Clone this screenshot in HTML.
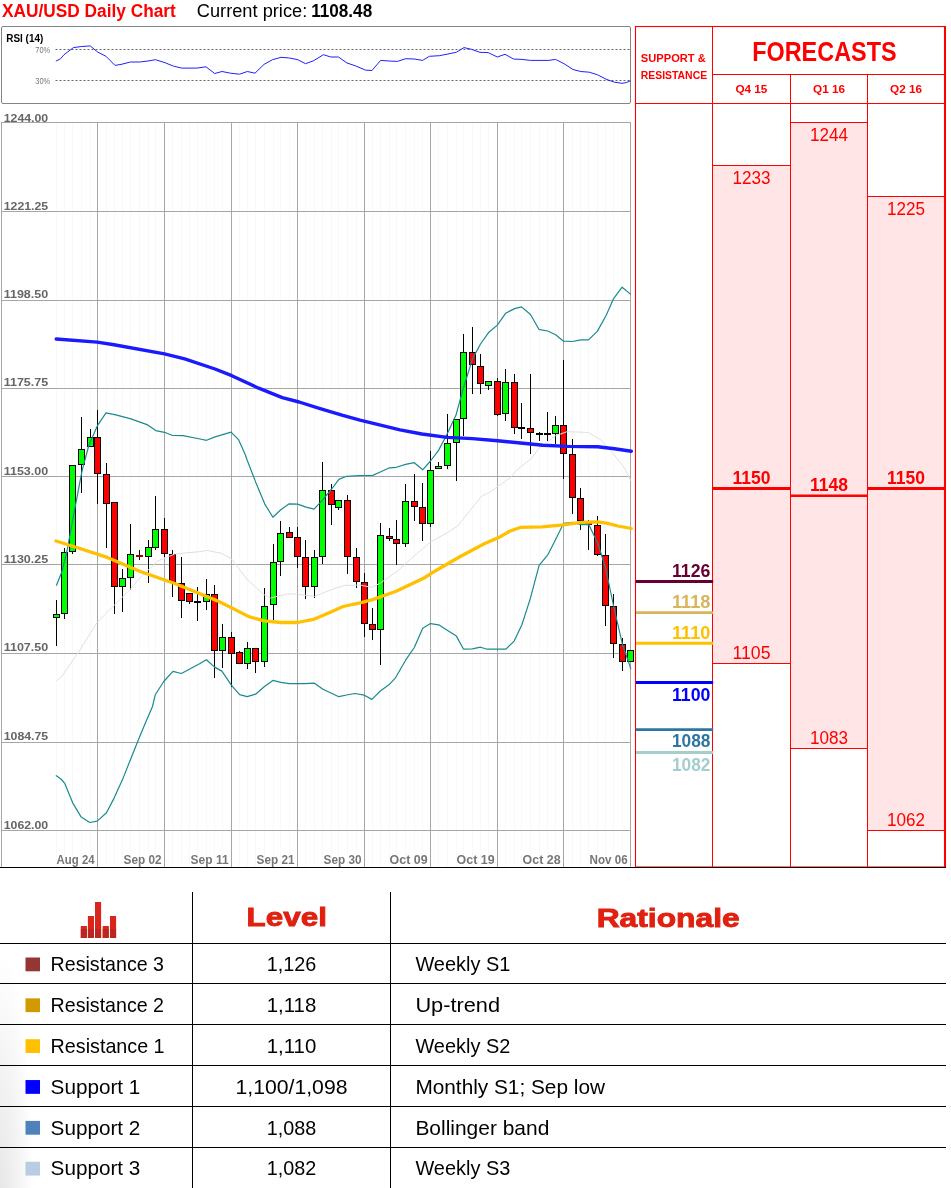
<!DOCTYPE html>
<html><head><meta charset="utf-8"><title>XAU/USD Daily Chart</title>
<style>html,body{margin:0;padding:0;background:#fff;}svg{display:block;font-family:"Liberation Sans",sans-serif;}</style>
</head><body>
<svg width="951" height="1188" viewBox="0 0 951 1188" font-family="'Liberation Sans', sans-serif">
<text x="2.1" y="16.8" font-size="17.6" font-weight="bold" fill="#ff0000" text-anchor="start" textLength="173.7" lengthAdjust="spacingAndGlyphs">XAU/USD Daily Chart</text>
<text x="196.8" y="16.8" font-size="17.6" font-weight="normal" fill="#000" text-anchor="start" textLength="110.4" lengthAdjust="spacingAndGlyphs">Current price:</text>
<text x="311.2" y="16.8" font-size="17.6" font-weight="bold" fill="#000" text-anchor="start" textLength="61" lengthAdjust="spacingAndGlyphs">1108.48</text>
<rect x="1.5" y="26.5" width="629" height="77" fill="#fff" stroke="#858585" stroke-width="1" rx="1.5"/>
<line x1="55.5" y1="49.5" x2="630" y2="49.5" stroke="#555" stroke-width="0.9" stroke-dasharray="2 2"/>
<line x1="55.5" y1="80.5" x2="630" y2="80.5" stroke="#555" stroke-width="0.9" stroke-dasharray="2 2"/>
<polyline fill="none" stroke="#1f1fff" stroke-width="1" stroke-linejoin="round" stroke-linecap="round"  points="56.2,61 60.6,58.7 64,54.7 73.4,47.6 80.8,46.6 90.2,45.9 97.6,52 106,56.3 115,65.4 121,64.4 130.5,62 139.6,62 148,61 155.5,59.7 165,62.7 173.3,66.1 181.7,68.1 196.8,68.1 206,66.8 214.7,73.5 222,71.5 230.5,73.2 239.6,74.2 247.3,71.5 255,73.2 264,64.4 272.5,59.7 281,57.3 289.4,58 297.8,59.7 305.5,63.7 313,61 320,56.8 323.4,54.7 330.8,57 338.5,57 347,63 355.3,65.8 365.4,70.1 372,70.5 380.6,60.4 389,61 397.4,61.4 405.8,58.7 414.2,59 422.6,60.4 429.4,56.3 439.4,55.7 447.9,54 456.3,52.3 464,47.6 471.4,49.3 479.8,52.3 488.2,52.6 497.3,57 505,54.3 513.5,59 521.9,59.4 530.3,60.4 548.8,60.4 555.5,59.4 564,63.7 573,69.5 580.8,71.5 589.2,72.2 597.6,74.8 606,79.2 614.4,82.2 621.8,83.3 626.2,82.6 630.2,80.9"/>
<text x="6.3" y="42" font-size="10" font-weight="bold" fill="#000" text-anchor="start" textLength="37" lengthAdjust="spacingAndGlyphs">RSI (14)</text>
<text x="35.3" y="52.6" font-size="8.3" font-weight="normal" fill="#777" text-anchor="start" textLength="14.9" lengthAdjust="spacingAndGlyphs">70%</text>
<text x="35.3" y="84" font-size="8.3" font-weight="normal" fill="#777" text-anchor="start" textLength="14.9" lengthAdjust="spacingAndGlyphs">30%</text>
<line x1="56.5" y1="122" x2="56.5" y2="867" stroke="#f9f9f9" stroke-width="1" />
<line x1="64.5" y1="122" x2="64.5" y2="867" stroke="#f9f9f9" stroke-width="1" />
<line x1="72.5" y1="122" x2="72.5" y2="867" stroke="#f9f9f9" stroke-width="1" />
<line x1="81.5" y1="122" x2="81.5" y2="867" stroke="#f9f9f9" stroke-width="1" />
<line x1="90.5" y1="122" x2="90.5" y2="867" stroke="#f9f9f9" stroke-width="1" />
<line x1="106.5" y1="122" x2="106.5" y2="867" stroke="#f9f9f9" stroke-width="1" />
<line x1="114.5" y1="122" x2="114.5" y2="867" stroke="#f9f9f9" stroke-width="1" />
<line x1="122.5" y1="122" x2="122.5" y2="867" stroke="#f9f9f9" stroke-width="1" />
<line x1="130.5" y1="122" x2="130.5" y2="867" stroke="#f9f9f9" stroke-width="1" />
<line x1="139.5" y1="122" x2="139.5" y2="867" stroke="#f9f9f9" stroke-width="1" />
<line x1="148.5" y1="122" x2="148.5" y2="867" stroke="#f9f9f9" stroke-width="1" />
<line x1="155.5" y1="122" x2="155.5" y2="867" stroke="#f9f9f9" stroke-width="1" />
<line x1="172.5" y1="122" x2="172.5" y2="867" stroke="#f9f9f9" stroke-width="1" />
<line x1="181.5" y1="122" x2="181.5" y2="867" stroke="#f9f9f9" stroke-width="1" />
<line x1="189.5" y1="122" x2="189.5" y2="867" stroke="#f9f9f9" stroke-width="1" />
<line x1="197.5" y1="122" x2="197.5" y2="867" stroke="#f9f9f9" stroke-width="1" />
<line x1="206.5" y1="122" x2="206.5" y2="867" stroke="#f9f9f9" stroke-width="1" />
<line x1="214.5" y1="122" x2="214.5" y2="867" stroke="#f9f9f9" stroke-width="1" />
<line x1="222.5" y1="122" x2="222.5" y2="867" stroke="#f9f9f9" stroke-width="1" />
<line x1="239.5" y1="122" x2="239.5" y2="867" stroke="#f9f9f9" stroke-width="1" />
<line x1="247.5" y1="122" x2="247.5" y2="867" stroke="#f9f9f9" stroke-width="1" />
<line x1="255.5" y1="122" x2="255.5" y2="867" stroke="#f9f9f9" stroke-width="1" />
<line x1="264.5" y1="122" x2="264.5" y2="867" stroke="#f9f9f9" stroke-width="1" />
<line x1="273.5" y1="122" x2="273.5" y2="867" stroke="#f9f9f9" stroke-width="1" />
<line x1="280.5" y1="122" x2="280.5" y2="867" stroke="#f9f9f9" stroke-width="1" />
<line x1="289.5" y1="122" x2="289.5" y2="867" stroke="#f9f9f9" stroke-width="1" />
<line x1="305.5" y1="122" x2="305.5" y2="867" stroke="#f9f9f9" stroke-width="1" />
<line x1="314.5" y1="122" x2="314.5" y2="867" stroke="#f9f9f9" stroke-width="1" />
<line x1="322.5" y1="122" x2="322.5" y2="867" stroke="#f9f9f9" stroke-width="1" />
<line x1="331.5" y1="122" x2="331.5" y2="867" stroke="#f9f9f9" stroke-width="1" />
<line x1="338.5" y1="122" x2="338.5" y2="867" stroke="#f9f9f9" stroke-width="1" />
<line x1="347.5" y1="122" x2="347.5" y2="867" stroke="#f9f9f9" stroke-width="1" />
<line x1="356.5" y1="122" x2="356.5" y2="867" stroke="#f9f9f9" stroke-width="1" />
<line x1="372.5" y1="122" x2="372.5" y2="867" stroke="#f9f9f9" stroke-width="1" />
<line x1="380.5" y1="122" x2="380.5" y2="867" stroke="#f9f9f9" stroke-width="1" />
<line x1="389.5" y1="122" x2="389.5" y2="867" stroke="#f9f9f9" stroke-width="1" />
<line x1="396.5" y1="122" x2="396.5" y2="867" stroke="#f9f9f9" stroke-width="1" />
<line x1="405.5" y1="122" x2="405.5" y2="867" stroke="#f9f9f9" stroke-width="1" />
<line x1="414.5" y1="122" x2="414.5" y2="867" stroke="#f9f9f9" stroke-width="1" />
<line x1="422.5" y1="122" x2="422.5" y2="867" stroke="#f9f9f9" stroke-width="1" />
<line x1="438.5" y1="122" x2="438.5" y2="867" stroke="#f9f9f9" stroke-width="1" />
<line x1="447.5" y1="122" x2="447.5" y2="867" stroke="#f9f9f9" stroke-width="1" />
<line x1="456.5" y1="122" x2="456.5" y2="867" stroke="#f9f9f9" stroke-width="1" />
<line x1="463.5" y1="122" x2="463.5" y2="867" stroke="#f9f9f9" stroke-width="1" />
<line x1="472.5" y1="122" x2="472.5" y2="867" stroke="#f9f9f9" stroke-width="1" />
<line x1="480.5" y1="122" x2="480.5" y2="867" stroke="#f9f9f9" stroke-width="1" />
<line x1="488.5" y1="122" x2="488.5" y2="867" stroke="#f9f9f9" stroke-width="1" />
<line x1="505.5" y1="122" x2="505.5" y2="867" stroke="#f9f9f9" stroke-width="1" />
<line x1="514.5" y1="122" x2="514.5" y2="867" stroke="#f9f9f9" stroke-width="1" />
<line x1="521.5" y1="122" x2="521.5" y2="867" stroke="#f9f9f9" stroke-width="1" />
<line x1="530.5" y1="122" x2="530.5" y2="867" stroke="#f9f9f9" stroke-width="1" />
<line x1="539.5" y1="122" x2="539.5" y2="867" stroke="#f9f9f9" stroke-width="1" />
<line x1="547.5" y1="122" x2="547.5" y2="867" stroke="#f9f9f9" stroke-width="1" />
<line x1="555.5" y1="122" x2="555.5" y2="867" stroke="#f9f9f9" stroke-width="1" />
<line x1="572.5" y1="122" x2="572.5" y2="867" stroke="#f9f9f9" stroke-width="1" />
<line x1="580.5" y1="122" x2="580.5" y2="867" stroke="#f9f9f9" stroke-width="1" />
<line x1="588.5" y1="122" x2="588.5" y2="867" stroke="#f9f9f9" stroke-width="1" />
<line x1="597.5" y1="122" x2="597.5" y2="867" stroke="#f9f9f9" stroke-width="1" />
<line x1="605.5" y1="122" x2="605.5" y2="867" stroke="#f9f9f9" stroke-width="1" />
<line x1="613.5" y1="122" x2="613.5" y2="867" stroke="#f9f9f9" stroke-width="1" />
<line x1="622.5" y1="122" x2="622.5" y2="867" stroke="#f9f9f9" stroke-width="1" />
<line x1="1" y1="122.5" x2="631" y2="122.5" stroke="#a6a6a6" stroke-width="1" />
<line x1="1" y1="211.5" x2="631" y2="211.5" stroke="#a6a6a6" stroke-width="1" />
<line x1="1" y1="300.5" x2="631" y2="300.5" stroke="#a6a6a6" stroke-width="1" />
<line x1="1" y1="388.5" x2="631" y2="388.5" stroke="#a6a6a6" stroke-width="1" />
<line x1="1" y1="476.5" x2="631" y2="476.5" stroke="#a6a6a6" stroke-width="1" />
<line x1="1" y1="564.5" x2="631" y2="564.5" stroke="#a6a6a6" stroke-width="1" />
<line x1="1" y1="653.5" x2="631" y2="653.5" stroke="#a6a6a6" stroke-width="1" />
<line x1="1" y1="742.5" x2="631" y2="742.5" stroke="#a6a6a6" stroke-width="1" />
<line x1="1" y1="830.5" x2="631" y2="830.5" stroke="#a6a6a6" stroke-width="1" />
<line x1="97.5" y1="122" x2="97.5" y2="867" stroke="#a6a6a6" stroke-width="1" />
<line x1="164.5" y1="122" x2="164.5" y2="867" stroke="#a6a6a6" stroke-width="1" />
<line x1="231.5" y1="122" x2="231.5" y2="867" stroke="#a6a6a6" stroke-width="1" />
<line x1="297.5" y1="122" x2="297.5" y2="867" stroke="#a6a6a6" stroke-width="1" />
<line x1="364.5" y1="122" x2="364.5" y2="867" stroke="#a6a6a6" stroke-width="1" />
<line x1="430.5" y1="122" x2="430.5" y2="867" stroke="#a6a6a6" stroke-width="1" />
<line x1="497.5" y1="122" x2="497.5" y2="867" stroke="#a6a6a6" stroke-width="1" />
<line x1="563.5" y1="122" x2="563.5" y2="867" stroke="#a6a6a6" stroke-width="1" />
<line x1="1.5" y1="122" x2="1.5" y2="867" stroke="#a6a6a6" stroke-width="1" />
<line x1="630.5" y1="122" x2="630.5" y2="867" stroke="#a6a6a6" stroke-width="1" />
<text x="3.7" y="121.8" font-size="11.4" font-weight="bold" fill="#666" text-anchor="start" textLength="44.5" lengthAdjust="spacingAndGlyphs">1244.00</text>
<text x="3.7" y="209.8" font-size="11.4" font-weight="bold" fill="#666" text-anchor="start" textLength="44.5" lengthAdjust="spacingAndGlyphs">1221.25</text>
<text x="3.7" y="297.7" font-size="11.4" font-weight="bold" fill="#666" text-anchor="start" textLength="44.5" lengthAdjust="spacingAndGlyphs">1198.50</text>
<text x="3.7" y="385.6" font-size="11.4" font-weight="bold" fill="#666" text-anchor="start" textLength="44.5" lengthAdjust="spacingAndGlyphs">1175.75</text>
<text x="3.7" y="474.7" font-size="11.4" font-weight="bold" fill="#666" text-anchor="start" textLength="44.5" lengthAdjust="spacingAndGlyphs">1153.00</text>
<text x="3.7" y="562.7" font-size="11.4" font-weight="bold" fill="#666" text-anchor="start" textLength="44.5" lengthAdjust="spacingAndGlyphs">1130.25</text>
<text x="3.7" y="650.9" font-size="11.4" font-weight="bold" fill="#666" text-anchor="start" textLength="44.5" lengthAdjust="spacingAndGlyphs">1107.50</text>
<text x="3.7" y="739.7" font-size="11.4" font-weight="bold" fill="#666" text-anchor="start" textLength="44.5" lengthAdjust="spacingAndGlyphs">1084.75</text>
<text x="3.7" y="828.6" font-size="11.4" font-weight="bold" fill="#666" text-anchor="start" textLength="44.5" lengthAdjust="spacingAndGlyphs">1062.00</text>
<text x="94.6" y="863.7" font-size="12.2" font-weight="bold" fill="#777" text-anchor="end" textLength="38" lengthAdjust="spacingAndGlyphs">Aug 24</text>
<text x="161.6" y="863.7" font-size="12.2" font-weight="bold" fill="#777" text-anchor="end" textLength="38" lengthAdjust="spacingAndGlyphs">Sep 02</text>
<text x="228.6" y="863.7" font-size="12.2" font-weight="bold" fill="#777" text-anchor="end" textLength="38" lengthAdjust="spacingAndGlyphs">Sep 11</text>
<text x="294.6" y="863.7" font-size="12.2" font-weight="bold" fill="#777" text-anchor="end" textLength="38" lengthAdjust="spacingAndGlyphs">Sep 21</text>
<text x="361.6" y="863.7" font-size="12.2" font-weight="bold" fill="#777" text-anchor="end" textLength="38" lengthAdjust="spacingAndGlyphs">Sep 30</text>
<text x="427.6" y="863.7" font-size="12.2" font-weight="bold" fill="#777" text-anchor="end" textLength="38" lengthAdjust="spacingAndGlyphs">Oct 09</text>
<text x="494.6" y="863.7" font-size="12.2" font-weight="bold" fill="#777" text-anchor="end" textLength="38" lengthAdjust="spacingAndGlyphs">Oct 19</text>
<text x="560.6" y="863.7" font-size="12.2" font-weight="bold" fill="#777" text-anchor="end" textLength="38" lengthAdjust="spacingAndGlyphs">Oct 28</text>
<text x="627.6" y="863.7" font-size="12.2" font-weight="bold" fill="#777" text-anchor="end" textLength="38" lengthAdjust="spacingAndGlyphs">Nov 06</text>
<g stroke="#000" stroke-width="1">
<line x1="56.5" y1="600" x2="56.5" y2="646"/>
<rect x="53.5" y="614.5" width="6" height="3" fill="#00ff00"/>
<line x1="64.5" y1="548" x2="64.5" y2="619"/>
<rect x="61.5" y="552.5" width="6" height="61" fill="#00ff00"/>
<line x1="72.5" y1="465" x2="72.5" y2="554"/>
<rect x="69.5" y="465.5" width="6" height="86" fill="#00ff00"/>
<line x1="81.5" y1="417" x2="81.5" y2="493"/>
<rect x="78.5" y="449.5" width="6" height="15" fill="#00ff00"/>
<line x1="90.5" y1="429" x2="90.5" y2="447"/>
<rect x="87.5" y="437.5" width="6" height="9" fill="#00ff00"/>
<line x1="97.5" y1="410" x2="97.5" y2="504"/>
<rect x="94.5" y="437.5" width="6" height="36" fill="#ff0000"/>
<line x1="106.5" y1="463" x2="106.5" y2="548"/>
<rect x="103.5" y="474.5" width="6" height="29" fill="#ff0000"/>
<line x1="114.5" y1="502" x2="114.5" y2="614"/>
<rect x="111.5" y="502.5" width="6" height="84" fill="#ff0000"/>
<line x1="122.5" y1="569" x2="122.5" y2="612"/>
<rect x="119.5" y="578.5" width="6" height="8" fill="#00ff00"/>
<line x1="130.5" y1="524" x2="130.5" y2="590"/>
<rect x="127.5" y="554.5" width="6" height="23" fill="#00ff00"/>
<line x1="139.5" y1="550" x2="139.5" y2="560"/>
<line x1="136" y1="556" x2="143" y2="556" stroke="#a00000" stroke-width="2"/>
<line x1="148.5" y1="540" x2="148.5" y2="583"/>
<rect x="145.5" y="547.5" width="6" height="9" fill="#00ff00"/>
<line x1="155.5" y1="496" x2="155.5" y2="550"/>
<rect x="152.5" y="529.5" width="6" height="18" fill="#00ff00"/>
<line x1="164.5" y1="518" x2="164.5" y2="557"/>
<rect x="161.5" y="529.5" width="6" height="24" fill="#ff0000"/>
<line x1="172.5" y1="550" x2="172.5" y2="597"/>
<rect x="169.5" y="554.5" width="6" height="28" fill="#ff0000"/>
<line x1="181.5" y1="557" x2="181.5" y2="618"/>
<rect x="178.5" y="583.5" width="6" height="17" fill="#ff0000"/>
<line x1="189.5" y1="593" x2="189.5" y2="604"/>
<rect x="186.5" y="593.5" width="6" height="8" fill="#ff0000"/>
<line x1="197.5" y1="587" x2="197.5" y2="621"/>
<line x1="194" y1="602" x2="201" y2="602" stroke="#000" stroke-width="2"/>
<line x1="206.5" y1="579" x2="206.5" y2="610"/>
<rect x="203.5" y="594.5" width="6" height="7" fill="#00ff00"/>
<line x1="214.5" y1="585" x2="214.5" y2="678"/>
<rect x="211.5" y="594.5" width="6" height="56" fill="#ff0000"/>
<line x1="222.5" y1="624" x2="222.5" y2="668"/>
<rect x="219.5" y="637.5" width="6" height="13" fill="#00ff00"/>
<line x1="231.5" y1="632" x2="231.5" y2="687"/>
<rect x="228.5" y="637.5" width="6" height="16" fill="#ff0000"/>
<line x1="239.5" y1="651" x2="239.5" y2="664"/>
<rect x="236.5" y="652.5" width="6" height="11" fill="#ff0000"/>
<line x1="247.5" y1="642" x2="247.5" y2="669"/>
<rect x="244.5" y="648.5" width="6" height="15" fill="#00ff00"/>
<line x1="255.5" y1="648" x2="255.5" y2="673"/>
<rect x="252.5" y="648.5" width="6" height="13" fill="#ff0000"/>
<line x1="264.5" y1="588" x2="264.5" y2="667"/>
<rect x="261.5" y="606.5" width="6" height="55" fill="#00ff00"/>
<line x1="273.5" y1="544" x2="273.5" y2="620"/>
<rect x="270.5" y="562.5" width="6" height="42" fill="#00ff00"/>
<line x1="280.5" y1="521" x2="280.5" y2="576"/>
<rect x="277.5" y="533.5" width="6" height="28" fill="#00ff00"/>
<line x1="289.5" y1="527" x2="289.5" y2="538"/>
<rect x="286.5" y="532.5" width="6" height="5" fill="#ff0000"/>
<line x1="297.5" y1="527" x2="297.5" y2="568"/>
<rect x="294.5" y="537.5" width="6" height="19" fill="#ff0000"/>
<line x1="305.5" y1="540" x2="305.5" y2="599"/>
<rect x="302.5" y="557.5" width="6" height="29" fill="#ff0000"/>
<line x1="314.5" y1="550" x2="314.5" y2="598"/>
<rect x="311.5" y="557.5" width="6" height="29" fill="#00ff00"/>
<line x1="322.5" y1="462" x2="322.5" y2="564"/>
<rect x="319.5" y="490.5" width="6" height="66" fill="#00ff00"/>
<line x1="331.5" y1="484" x2="331.5" y2="525"/>
<rect x="328.5" y="490.5" width="6" height="14" fill="#ff0000"/>
<line x1="338.5" y1="500" x2="338.5" y2="510"/>
<rect x="335.5" y="500.5" width="6" height="7" fill="#00ff00"/>
<line x1="347.5" y1="495" x2="347.5" y2="574"/>
<rect x="344.5" y="500.5" width="6" height="56" fill="#ff0000"/>
<line x1="356.5" y1="548" x2="356.5" y2="588"/>
<rect x="353.5" y="557.5" width="6" height="24" fill="#ff0000"/>
<line x1="364.5" y1="573" x2="364.5" y2="637"/>
<rect x="361.5" y="582.5" width="6" height="41" fill="#ff0000"/>
<line x1="372.5" y1="608" x2="372.5" y2="640"/>
<rect x="369.5" y="624.5" width="6" height="5" fill="#ff0000"/>
<line x1="380.5" y1="523" x2="380.5" y2="665"/>
<rect x="377.5" y="535.5" width="6" height="94" fill="#00ff00"/>
<line x1="389.5" y1="528" x2="389.5" y2="541"/>
<rect x="386.5" y="536.5" width="6" height="2" fill="#ff0000"/>
<line x1="396.5" y1="520" x2="396.5" y2="565"/>
<rect x="393.5" y="539.5" width="6" height="4" fill="#ff0000"/>
<line x1="405.5" y1="484" x2="405.5" y2="547"/>
<rect x="402.5" y="501.5" width="6" height="42" fill="#00ff00"/>
<line x1="414.5" y1="474" x2="414.5" y2="521"/>
<rect x="411.5" y="501.5" width="6" height="5" fill="#ff0000"/>
<line x1="422.5" y1="483" x2="422.5" y2="541"/>
<rect x="419.5" y="507.5" width="6" height="16" fill="#ff0000"/>
<line x1="430.5" y1="451" x2="430.5" y2="527"/>
<rect x="427.5" y="470.5" width="6" height="53" fill="#00ff00"/>
<line x1="438.5" y1="462" x2="438.5" y2="468"/>
<rect x="435.5" y="466.5" width="6" height="2" fill="#00ff00"/>
<line x1="447.5" y1="414" x2="447.5" y2="469"/>
<rect x="444.5" y="443.5" width="6" height="22" fill="#00ff00"/>
<line x1="456.5" y1="419" x2="456.5" y2="481"/>
<rect x="453.5" y="419.5" width="6" height="23" fill="#00ff00"/>
<line x1="463.5" y1="334" x2="463.5" y2="436"/>
<rect x="460.5" y="352.5" width="6" height="66" fill="#00ff00"/>
<line x1="472.5" y1="327" x2="472.5" y2="394"/>
<rect x="469.5" y="352.5" width="6" height="12" fill="#ff0000"/>
<line x1="480.5" y1="354" x2="480.5" y2="394"/>
<rect x="477.5" y="366.5" width="6" height="17" fill="#ff0000"/>
<line x1="488.5" y1="381" x2="488.5" y2="390"/>
<rect x="485.5" y="381.5" width="6" height="4" fill="#00ff00"/>
<line x1="497.5" y1="378" x2="497.5" y2="416"/>
<rect x="494.5" y="381.5" width="6" height="33" fill="#ff0000"/>
<line x1="505.5" y1="369" x2="505.5" y2="421"/>
<rect x="502.5" y="382.5" width="6" height="31" fill="#00ff00"/>
<line x1="514.5" y1="374" x2="514.5" y2="434"/>
<rect x="511.5" y="382.5" width="6" height="45" fill="#ff0000"/>
<line x1="521.5" y1="403" x2="521.5" y2="439"/>
<line x1="518" y1="428" x2="525" y2="428" stroke="#000" stroke-width="2"/>
<line x1="530.5" y1="374" x2="530.5" y2="454"/>
<rect x="527.5" y="428.5" width="6" height="4" fill="#ff0000"/>
<line x1="539.5" y1="432" x2="539.5" y2="441"/>
<line x1="536" y1="434" x2="543" y2="434" stroke="#000" stroke-width="2"/>
<line x1="547.5" y1="412" x2="547.5" y2="441"/>
<line x1="544" y1="434" x2="551" y2="434" stroke="#000" stroke-width="2"/>
<line x1="555.5" y1="416" x2="555.5" y2="444"/>
<rect x="552.5" y="425.5" width="6" height="8" fill="#00ff00"/>
<line x1="563.5" y1="360" x2="563.5" y2="479"/>
<rect x="560.5" y="425.5" width="6" height="28" fill="#ff0000"/>
<line x1="572.5" y1="439" x2="572.5" y2="514"/>
<rect x="569.5" y="454.5" width="6" height="43" fill="#ff0000"/>
<line x1="580.5" y1="488" x2="580.5" y2="530"/>
<rect x="577.5" y="498.5" width="6" height="22" fill="#ff0000"/>
<line x1="588.5" y1="520" x2="588.5" y2="550"/>
<line x1="585" y1="524" x2="592" y2="524" stroke="#a00000" stroke-width="2"/>
<line x1="597.5" y1="516" x2="597.5" y2="556"/>
<rect x="594.5" y="525.5" width="6" height="29" fill="#ff0000"/>
<line x1="605.5" y1="534" x2="605.5" y2="626"/>
<rect x="602.5" y="555.5" width="6" height="50" fill="#ff0000"/>
<line x1="613.5" y1="594" x2="613.5" y2="658"/>
<rect x="610.5" y="606.5" width="6" height="37" fill="#ff0000"/>
<line x1="622.5" y1="638" x2="622.5" y2="671"/>
<rect x="619.5" y="644.5" width="6" height="17" fill="#ff0000"/>
<line x1="630.5" y1="650" x2="630.5" y2="662"/>
<rect x="627.5" y="650.5" width="6" height="11" fill="#00ff00"/>
</g>
<polyline fill="none" stroke="#e0e0e0" stroke-width="1" stroke-linejoin="round" stroke-linecap="round"  points="56.5,680.9 61.9,676.2 78.7,651.8 97.2,622.3 114,605.5 131,588.6 141,576.8 157.8,561 174.7,554 200,551.6 206.7,550.4 221.9,553.4 232,559.3 247.1,579.5 264,594.7 270.7,598 287.5,593.8 297.6,594.2 314.5,596.4 331.3,589.6 344.8,585.4 360.1,585.1 371.9,587.3 380.3,583.1 397.1,571.3 414,556.2 430.5,541.9 447.6,532.6 457.7,525.9 481.3,496.4 489.7,492.2 510,477.9 516.8,470 531.3,458.5 538.7,448.5 555.6,435.8 567.3,431.6 588.4,432.5 601,440 614.5,455.2 624.6,468 630.5,480.5"/>
<polyline fill="none" stroke="#1a8a8f" stroke-width="1.2" stroke-linejoin="round" stroke-linecap="round"  points="56.5,585.2 61.9,571.7 66.9,551.5 73.7,514.5 82.1,470.7 88.8,445.5 97.6,425.3 106,412.8 115.8,414.8 130.9,418.9 147.7,424.9 155.7,430.6 164.6,432.3 172.5,435.5 183.1,435.7 200,439 206.6,440.3 215,436.9 231.1,432.2 238.5,439.6 245.3,454.8 247.1,460 255.6,481.9 264.8,504.1 272.9,517.2 280.8,509.7 289.2,503.8 297.6,504.1 306.1,507.1 314.1,509.2 322.9,499.6 331.3,489.5 338.9,479.4 346.5,476.3 360,475.5 372.7,475.4 380.3,472 389.6,467.8 396.3,467.3 405.6,464.4 414.3,462.7 422.7,469.8 430.5,461 438.7,450.1 447.5,433.2 456.1,414.7 463.5,387.7 472.4,359.1 480.5,344 488.9,332.2 497.3,325.1 505.6,313.3 514.5,308.6 521.5,306.9 530.5,314.5 538.9,329.3 547.6,331 555.7,334.7 563.5,341.2 572.4,341.5 580.8,339.9 588.4,339.9 597.3,331.4 606.1,315.5 613.6,298.6 622.1,287.2 630.5,294.1"/>
<polyline fill="none" stroke="#1a8a8f" stroke-width="1.2" stroke-linejoin="round" stroke-linecap="round"  points="56.3,775.7 61,779 64.7,783.3 72.8,803.1 81.2,817.1 89.7,822.5 97.2,821.1 106.5,812.7 114.1,798.1 122.5,779.6 130.9,758.5 137.6,741.8 146,721.6 152.5,706.5 155.3,694.7 163.7,681.5 173,671.4 181.4,673.5 200,663.5 206.4,659.7 214.3,666.9 221.9,671.1 231.5,685.4 239.6,694.7 247.1,696.7 255.6,694.2 264.8,686.3 272.9,680.4 280.8,682.4 289.2,683.7 304.4,683.7 314.5,683.2 322.9,689.3 338.9,696.7 346.5,695 354.9,693.5 364.3,695.2 371.9,699.4 380.3,691 389.6,684.2 395.5,677.8 405.6,660.2 414.3,647.5 422.7,628.2 430.5,623.6 438.7,624.8 447.6,630.4 456.4,636.1 463.6,649.2 472.4,648.9 480.5,647.2 487.2,649.2 505.9,649.2 514.3,640.8 521.9,624.8 530.3,598.6 539.1,565.3 548,554.6 555.6,539.4 563.5,523.4 572.4,522.3 580.8,524.6 588.7,524.6 597.6,542.8 605.6,568 613.6,606 622.4,644.2 630.8,668.6"/>
<polyline fill="none" stroke="#1a1aff" stroke-width="3.4" stroke-linejoin="round" stroke-linecap="round"  points="56.2,339 97.2,342.1 114,344.8 164.5,353.8 184.7,358.9 215,369 231.8,375.7 258.7,388.2 282.3,397.6 299.1,402 319.3,408.3 342.8,415.4 360,420.1 400,429.8 421.9,434 447.1,437.4 472.4,438.6 497.6,440.8 522.9,443.3 543.1,445.3 567.3,446.4 597.6,446.8 614.5,448.8 631.3,451.2"/>
<polyline fill="none" stroke="#ffc000" stroke-width="3.3" stroke-linejoin="round" stroke-linecap="round"  points="56,541 73.7,546.5 107.3,557.4 141,571.7 174.7,583.5 200,593.7 216.8,600.6 232,608.1 248.8,616.6 264,620.8 280.8,622.5 297.6,622.5 314.5,619.1 328,613.2 343.1,606.5 360,602.8 371.9,599.9 395.5,591.5 424.1,578 430.5,573.8 459.4,557 484.7,543.5 500,536.9 510.1,531 521,527.3 542.1,526.8 563.5,524.8 580.8,522.3 597.6,521.8 607.7,523.4 617.8,526 631.3,528.5"/>
<rect x="712.5" y="165.5" width="78" height="498" fill="#ffe5e5" stroke="#ff0000" stroke-width="1" />
<line x1="712.5" y1="488.5" x2="790.5" y2="488.5" stroke="#ff0000" stroke-width="3" />
<text x="751.5" y="184" font-size="18" font-weight="normal" fill="#ff0000" text-anchor="middle" textLength="38" lengthAdjust="spacingAndGlyphs">1233</text>
<text x="751.5" y="659.3" font-size="18" font-weight="normal" fill="#ff0000" text-anchor="middle" textLength="38" lengthAdjust="spacingAndGlyphs">1105</text>
<text x="751.5" y="483.9" font-size="18" font-weight="bold" fill="#ff0000" text-anchor="middle" textLength="38" lengthAdjust="spacingAndGlyphs">1150</text>
<rect x="790.5" y="122.5" width="77" height="626" fill="#ffe5e5" stroke="#ff0000" stroke-width="1" />
<line x1="790.5" y1="495.7" x2="867.5" y2="495.7" stroke="#ff0000" stroke-width="2.5" />
<text x="829" y="141" font-size="18" font-weight="normal" fill="#ff0000" text-anchor="middle" textLength="38" lengthAdjust="spacingAndGlyphs">1244</text>
<text x="829" y="744.3" font-size="18" font-weight="normal" fill="#ff0000" text-anchor="middle" textLength="38" lengthAdjust="spacingAndGlyphs">1083</text>
<text x="829" y="491.1" font-size="18" font-weight="bold" fill="#ff0000" text-anchor="middle" textLength="38" lengthAdjust="spacingAndGlyphs">1148</text>
<rect x="867.5" y="196.5" width="77" height="634" fill="#ffe5e5" stroke="#ff0000" stroke-width="1" />
<line x1="867.5" y1="488.5" x2="944.5" y2="488.5" stroke="#ff0000" stroke-width="3" />
<text x="906" y="215" font-size="18" font-weight="normal" fill="#ff0000" text-anchor="middle" textLength="38" lengthAdjust="spacingAndGlyphs">1225</text>
<text x="906" y="826.3" font-size="18" font-weight="normal" fill="#ff0000" text-anchor="middle" textLength="38" lengthAdjust="spacingAndGlyphs">1062</text>
<text x="906" y="483.9" font-size="18" font-weight="bold" fill="#ff0000" text-anchor="middle" textLength="38" lengthAdjust="spacingAndGlyphs">1150</text>
<rect x="635.5" y="26.5" width="309" height="840.5" fill="none" stroke="#ff0000" stroke-width="1.1" />
<line x1="945" y1="26" x2="945" y2="867.5" stroke="#ff0000" stroke-width="2" />
<line x1="712.5" y1="26.5" x2="712.5" y2="867" stroke="#ff0000" stroke-width="1" />
<line x1="790.5" y1="74.5" x2="790.5" y2="867" stroke="#ff0000" stroke-width="1" />
<line x1="867.5" y1="74.5" x2="867.5" y2="867" stroke="#ff0000" stroke-width="1" />
<line x1="712.5" y1="74.5" x2="944.5" y2="74.5" stroke="#ff0000" stroke-width="1" />
<line x1="635.5" y1="103.5" x2="944.5" y2="103.5" stroke="#ff0000" stroke-width="1" />
<text x="640.8" y="62.2" font-size="11.6" font-weight="bold" fill="#ff0000" text-anchor="start" textLength="65" lengthAdjust="spacingAndGlyphs">SUPPORT &amp;</text>
<text x="640.8" y="78.6" font-size="11.6" font-weight="bold" fill="#ff0000" text-anchor="start" textLength="66.3" lengthAdjust="spacingAndGlyphs">RESISTANCE</text>
<text x="824.4" y="60.5" font-size="28.1" font-weight="bold" fill="#ff0000" text-anchor="middle" textLength="144.4" lengthAdjust="spacingAndGlyphs">FORECASTS</text>
<text x="751.4" y="93.2" font-size="11.8" font-weight="bold" fill="#ff0000" text-anchor="middle" textLength="32" lengthAdjust="spacingAndGlyphs">Q4 15</text>
<text x="829" y="93.2" font-size="11.8" font-weight="bold" fill="#ff0000" text-anchor="middle" textLength="32" lengthAdjust="spacingAndGlyphs">Q1 16</text>
<text x="906" y="93.2" font-size="11.8" font-weight="bold" fill="#ff0000" text-anchor="middle" textLength="32" lengthAdjust="spacingAndGlyphs">Q2 16</text>
<line x1="636" y1="581.5" x2="713.2" y2="581.5" stroke="#660033" stroke-width="2.9" />
<text x="710.4" y="576.9" font-size="17.6" font-weight="bold" fill="#660033" text-anchor="end" textLength="38.4" lengthAdjust="spacingAndGlyphs">1126</text>
<line x1="636" y1="612.6" x2="713.2" y2="612.6" stroke="#d9b45c" stroke-width="2.9" />
<text x="710.4" y="607.6" font-size="17.6" font-weight="bold" fill="#d9b45c" text-anchor="end" textLength="38.4" lengthAdjust="spacingAndGlyphs">1118</text>
<line x1="636" y1="643.3" x2="713.2" y2="643.3" stroke="#ffc000" stroke-width="2.9" />
<text x="710.4" y="638.7" font-size="17.6" font-weight="bold" fill="#ffc000" text-anchor="end" textLength="38.4" lengthAdjust="spacingAndGlyphs">1110</text>
<line x1="636" y1="682.5" x2="713.2" y2="682.5" stroke="#0000ff" stroke-width="2.9" />
<text x="710.4" y="701" font-size="17.6" font-weight="bold" fill="#0000ff" text-anchor="end" textLength="38.4" lengthAdjust="spacingAndGlyphs">1100</text>
<line x1="636" y1="729.6" x2="713.2" y2="729.6" stroke="#2e75a0" stroke-width="2.9" />
<text x="710.4" y="747.4" font-size="17.6" font-weight="bold" fill="#2e75a0" text-anchor="end" textLength="38.4" lengthAdjust="spacingAndGlyphs">1088</text>
<line x1="636" y1="752.5" x2="713.2" y2="752.5" stroke="#a5cdcd" stroke-width="2.9" />
<text x="710.4" y="770.8" font-size="17.6" font-weight="bold" fill="#a5cdcd" text-anchor="end" textLength="38.4" lengthAdjust="spacingAndGlyphs">1082</text>
<line x1="0" y1="867.5" x2="946" y2="867.5" stroke="#000" stroke-width="1.2" />
<defs><radialGradient id="sh" gradientUnits="userSpaceOnUse" cx="0" cy="0" r="1" gradientTransform="translate(0 1200) scale(34 250)"><stop offset="0" stop-color="#e6e6e6"/><stop offset="1" stop-color="#ffffff"/></radialGradient></defs>
<rect x="0" y="868" width="60" height="320" fill="url(#sh)" stroke="none" stroke-width="1" />
<line x1="0" y1="943.5" x2="946" y2="943.5" stroke="#000" stroke-width="1" />
<line x1="0" y1="983.5" x2="946" y2="983.5" stroke="#000" stroke-width="1" />
<line x1="0" y1="1024.5" x2="946" y2="1024.5" stroke="#000" stroke-width="1" />
<line x1="0" y1="1065.5" x2="946" y2="1065.5" stroke="#000" stroke-width="1" />
<line x1="0" y1="1106.5" x2="946" y2="1106.5" stroke="#000" stroke-width="1" />
<line x1="0" y1="1147.5" x2="946" y2="1147.5" stroke="#000" stroke-width="1" />
<line x1="192.5" y1="892" x2="192.5" y2="1188" stroke="#000" stroke-width="1" />
<line x1="390.5" y1="892" x2="390.5" y2="1188" stroke="#000" stroke-width="1" />
<rect x="80.8" y="926" width="6.1" height="12" fill="#da251d" stroke="none" stroke-width="1" />
<rect x="80.8" y="929" width="6.1" height="9" fill="#bb261f" stroke="none" stroke-width="1" />
<rect x="87.9" y="916" width="6.1" height="22" fill="#da251d" stroke="none" stroke-width="1" />
<rect x="87.9" y="929" width="6.1" height="9" fill="#bb261f" stroke="none" stroke-width="1" />
<rect x="95" y="902" width="6.1" height="36" fill="#da251d" stroke="none" stroke-width="1" />
<rect x="95" y="929" width="6.1" height="9" fill="#bb261f" stroke="none" stroke-width="1" />
<rect x="102.7" y="926" width="6.1" height="12" fill="#da251d" stroke="none" stroke-width="1" />
<rect x="102.7" y="929" width="6.1" height="9" fill="#bb261f" stroke="none" stroke-width="1" />
<rect x="110" y="916" width="6.1" height="22" fill="#da251d" stroke="none" stroke-width="1" />
<rect x="110" y="929" width="6.1" height="9" fill="#bb261f" stroke="none" stroke-width="1" />
<text x="286.75" y="926.4" font-size="26.3" font-weight="bold" fill="#e0210f" text-anchor="middle" textLength="80.4" lengthAdjust="spacingAndGlyphs" stroke="#e0210f" stroke-width="0.9">Level</text>
<text x="668.15" y="926.8" font-size="26.3" font-weight="bold" fill="#e0210f" text-anchor="middle" textLength="143" lengthAdjust="spacingAndGlyphs" stroke="#e0210f" stroke-width="0.9">Rationale</text>
<rect x="25.5" y="957.5" width="14.5" height="13.8" fill="#943634" stroke="none" stroke-width="1" />
<text x="50.6" y="971.2" font-size="20.8" font-weight="normal" fill="#000" text-anchor="start" textLength="113.4" lengthAdjust="spacingAndGlyphs">Resistance 3</text>
<text x="291.5" y="971.2" font-size="20.8" font-weight="normal" fill="#000" text-anchor="middle" textLength="49.5" lengthAdjust="spacingAndGlyphs">1,126</text>
<text x="415.4" y="971.2" font-size="20.8" font-weight="normal" fill="#000" text-anchor="start" textLength="94.9" lengthAdjust="spacingAndGlyphs">Weekly S1</text>
<rect x="25.5" y="998.35" width="14.5" height="13.8" fill="#d09a00" stroke="none" stroke-width="1" />
<text x="50.6" y="1012.05" font-size="20.8" font-weight="normal" fill="#000" text-anchor="start" textLength="113.4" lengthAdjust="spacingAndGlyphs">Resistance 2</text>
<text x="291.5" y="1012.05" font-size="20.8" font-weight="normal" fill="#000" text-anchor="middle" textLength="49.5" lengthAdjust="spacingAndGlyphs">1,118</text>
<text x="415.4" y="1012.05" font-size="20.8" font-weight="normal" fill="#000" text-anchor="start" textLength="84.6" lengthAdjust="spacingAndGlyphs">Up-trend</text>
<rect x="25.5" y="1039.2" width="14.5" height="13.8" fill="#ffc000" stroke="none" stroke-width="1" />
<text x="50.6" y="1052.9" font-size="20.8" font-weight="normal" fill="#000" text-anchor="start" textLength="114" lengthAdjust="spacingAndGlyphs">Resistance 1</text>
<text x="291.5" y="1052.9" font-size="20.8" font-weight="normal" fill="#000" text-anchor="middle" textLength="49.5" lengthAdjust="spacingAndGlyphs">1,110</text>
<text x="415.4" y="1052.9" font-size="20.8" font-weight="normal" fill="#000" text-anchor="start" textLength="94.9" lengthAdjust="spacingAndGlyphs">Weekly S2</text>
<rect x="25.5" y="1080.05" width="14.5" height="13.8" fill="#0000ff" stroke="none" stroke-width="1" />
<text x="50.6" y="1093.75" font-size="20.8" font-weight="normal" fill="#000" text-anchor="start" textLength="89.8" lengthAdjust="spacingAndGlyphs">Support 1</text>
<text x="291.5" y="1093.75" font-size="20.8" font-weight="normal" fill="#000" text-anchor="middle" textLength="112" lengthAdjust="spacingAndGlyphs">1,100/1,098</text>
<text x="415.4" y="1093.75" font-size="20.8" font-weight="normal" fill="#000" text-anchor="start" textLength="189.6" lengthAdjust="spacingAndGlyphs">Monthly S1; Sep low</text>
<rect x="25.5" y="1120.9" width="14.5" height="13.8" fill="#4f81bd" stroke="none" stroke-width="1" />
<text x="50.6" y="1134.6" font-size="20.8" font-weight="normal" fill="#000" text-anchor="start" textLength="89.8" lengthAdjust="spacingAndGlyphs">Support 2</text>
<text x="291.5" y="1134.6" font-size="20.8" font-weight="normal" fill="#000" text-anchor="middle" textLength="49.5" lengthAdjust="spacingAndGlyphs">1,088</text>
<text x="415.4" y="1134.6" font-size="20.8" font-weight="normal" fill="#000" text-anchor="start" textLength="133.9" lengthAdjust="spacingAndGlyphs">Bollinger band</text>
<rect x="25.5" y="1161.75" width="14.5" height="13.8" fill="#b8cce4" stroke="none" stroke-width="1" />
<text x="50.6" y="1175.45" font-size="20.8" font-weight="normal" fill="#000" text-anchor="start" textLength="89.8" lengthAdjust="spacingAndGlyphs">Support 3</text>
<text x="291.5" y="1175.45" font-size="20.8" font-weight="normal" fill="#000" text-anchor="middle" textLength="49.5" lengthAdjust="spacingAndGlyphs">1,082</text>
<text x="415.4" y="1175.45" font-size="20.8" font-weight="normal" fill="#000" text-anchor="start" textLength="94.9" lengthAdjust="spacingAndGlyphs">Weekly S3</text>
</svg>
</body></html>
